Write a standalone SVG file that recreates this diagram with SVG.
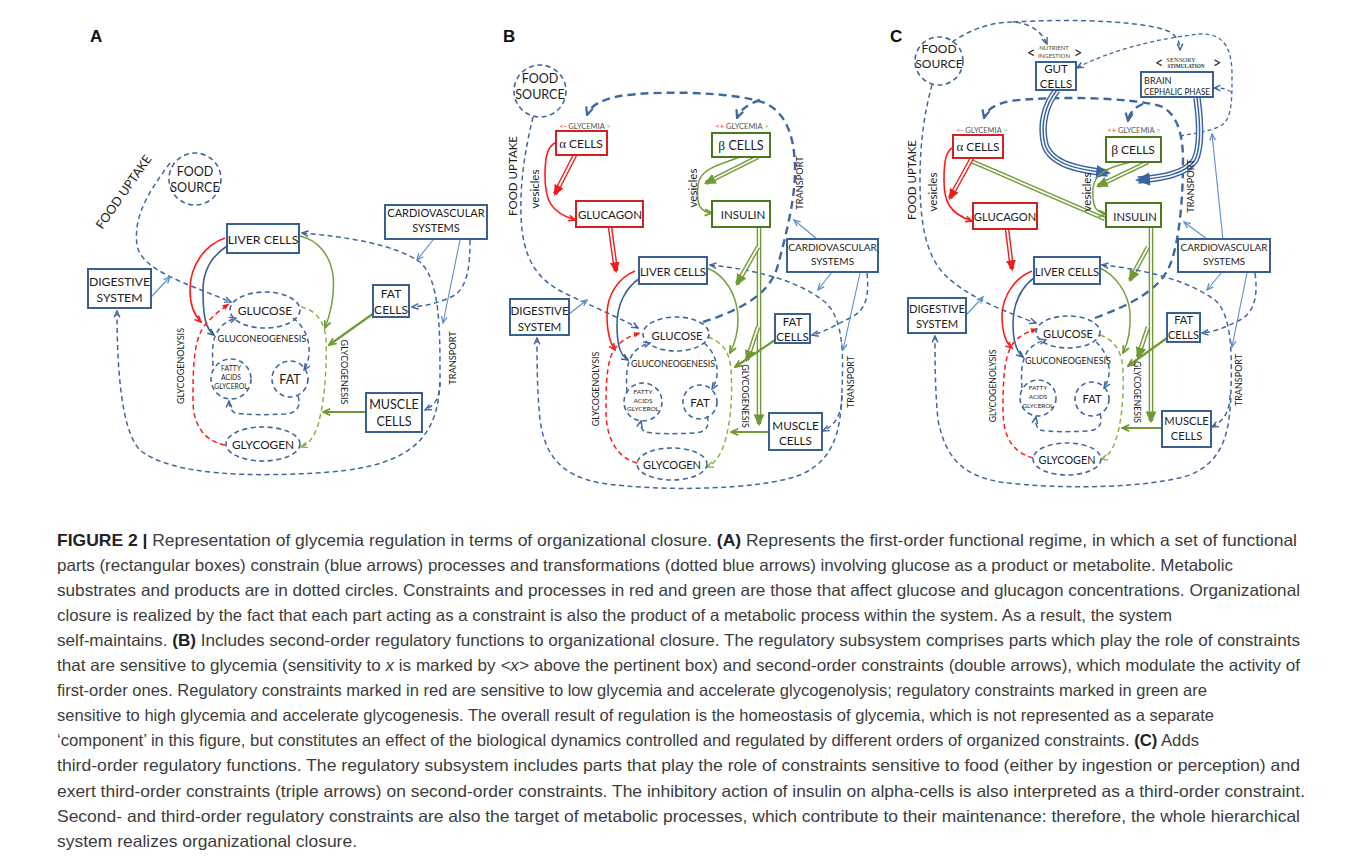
<svg xmlns="http://www.w3.org/2000/svg" width="1358" height="858" viewBox="0 0 1358 858">
<style>
.n{font-family:Lato,"Open Sans","Liberation Sans",sans-serif;fill:#1c1c1c;text-anchor:middle}
.sm{font-family:Lato,"Open Sans","Liberation Sans",sans-serif;text-anchor:middle}
.box{fill:#fff;stroke:#3a5f91;stroke-width:2}
.rbox{fill:#fff;stroke:#d42020;stroke-width:2}
.gbox{fill:#fff;stroke:#4b7a1e;stroke-width:2}
.met{fill:none;stroke:#3f68a0;stroke-width:1.6;stroke-dasharray:5 3.5}
.dash{fill:none;stroke:#3f68a0;stroke-width:1.5;stroke-dasharray:5 3.5;marker-end:url(#vB)}
.both{marker-start:url(#vB)}
.thd{fill:none;stroke:#3f68a0;stroke-width:1.3;stroke-dasharray:4 3}
.hd{fill:none;stroke:#3f68a0;stroke-width:2.4;stroke-dasharray:8 5;marker-end:url(#vBh)}
.thin{fill:none;stroke:#5b8dd0;stroke-width:1.1;marker-end:url(#vL)}
.bl{fill:none;stroke:#3a5f91;stroke-width:1.6;marker-end:url(#vBs)}
.rd{fill:none;stroke:#ff1a1a;stroke-width:1.6;marker-end:url(#vR)}
.rdd{fill:none;stroke:#ff1a1a;stroke-width:1.5;stroke-dasharray:5 3.5;marker-end:url(#fRs)}
.gr{fill:none;stroke:#6f9a35;stroke-width:2.2;marker-end:url(#vG)}
.gr1{fill:none;stroke:#77a03a;stroke-width:1.5;marker-end:url(#vG)}
.grd{fill:none;stroke:#8db04a;stroke-width:1.5;stroke-dasharray:5 3.5;marker-end:url(#vGl)}
.ro{fill:none;stroke:#ee1c1c;stroke-width:4.6}
.go{fill:none;stroke:#6f9a35;stroke-width:4.6}
.wi{fill:none;stroke:#fff;stroke-width:1.8}
.bo{fill:none;stroke:#3a64a0;stroke-width:7.5}
.bw{fill:none;stroke:#fff;stroke-width:4.6}
.bc{fill:none;stroke:#3a64a0;stroke-width:1.5}
.lab{font-family:Lato,"Open Sans","Liberation Sans",sans-serif;fill:#1c1c1c;text-anchor:middle}
.cap{font-family:"Liberation Sans",Arial,sans-serif;font-size:16.5px;fill:#3c3c3c}
</style>
<defs>
<marker id="vB" viewBox="0 0 10 10" refX="9" refY="5" markerWidth="8" markerHeight="8" markerUnits="userSpaceOnUse" orient="auto-start-reverse"><path d="M1,1.5 L9,5 L1,8.5" fill="none" stroke="#3f68a0" stroke-width="1.8"/></marker>
<marker id="vBh" viewBox="0 0 10 10" refX="9" refY="5" markerWidth="10" markerHeight="10" markerUnits="userSpaceOnUse" orient="auto"><path d="M1,1.5 L9,5 L1,8.5" fill="none" stroke="#3f68a0" stroke-width="2.2"/></marker>
<marker id="vL" viewBox="0 0 10 10" refX="9" refY="5" markerWidth="8" markerHeight="8" markerUnits="userSpaceOnUse" orient="auto"><path d="M1,1.5 L9,5 L1,8.5" fill="none" stroke="#5b8dd0" stroke-width="1.6"/></marker>
<marker id="vBs" viewBox="0 0 10 10" refX="9" refY="5" markerWidth="8" markerHeight="8" markerUnits="userSpaceOnUse" orient="auto"><path d="M1,1.5 L9,5 L1,8.5" fill="none" stroke="#3a5f91" stroke-width="2"/></marker>
<marker id="vR" viewBox="0 0 10 10" refX="9" refY="5" markerWidth="8" markerHeight="8" markerUnits="userSpaceOnUse" orient="auto"><path d="M1,1.5 L9,5 L1,8.5" fill="none" stroke="#ff1a1a" stroke-width="2"/></marker>
<marker id="fRs" viewBox="0 0 10 10" refX="9" refY="5" markerWidth="7" markerHeight="7" markerUnits="userSpaceOnUse" orient="auto"><path d="M0,1 L10,5 L0,9 z" fill="#ff1a1a"/></marker>
<marker id="vG" viewBox="0 0 10 10" refX="9" refY="5" markerWidth="9" markerHeight="9" markerUnits="userSpaceOnUse" orient="auto"><path d="M1,1.5 L9,5 L1,8.5" fill="none" stroke="#6f9a35" stroke-width="2"/></marker>
<marker id="vGl" viewBox="0 0 10 10" refX="9" refY="5" markerWidth="8" markerHeight="8" markerUnits="userSpaceOnUse" orient="auto"><path d="M1,1.5 L9,5 L1,8.5" fill="none" stroke="#8db04a" stroke-width="1.8"/></marker>
<marker id="fR" viewBox="0 0 10 10" refX="8" refY="5" markerWidth="11" markerHeight="11" markerUnits="userSpaceOnUse" orient="auto"><path d="M0,0.5 L10,5 L0,9.5 z" fill="#ee1c1c"/></marker>
<marker id="fG" viewBox="0 0 10 10" refX="8" refY="5" markerWidth="12" markerHeight="12" markerUnits="userSpaceOnUse" orient="auto"><path d="M0,0.5 L10,5 L0,9.5 z" fill="#6f9a35"/></marker>
<marker id="fB" viewBox="0 0 10 10" refX="8" refY="5" markerWidth="15" markerHeight="15" markerUnits="userSpaceOnUse" orient="auto"><path d="M0,0.5 L10,5 L0,9.5 z" fill="#3a64a0"/></marker>
<marker id="barG" viewBox="0 0 10 10" refX="5" refY="5" markerWidth="13" markerHeight="13" markerUnits="userSpaceOnUse" orient="auto"><path d="M5,0 L5,10" stroke="#6f9a35" stroke-width="1.6"/></marker>
</defs>
<rect width="1358" height="858" fill="#fff"/>

<!-- ================= PANEL A ================= -->
<text x="90" y="42" font-family="Liberation Sans,Arial,sans-serif" font-weight="bold" font-size="17" fill="#111">A</text>
<g id="A-connectors">
<path class="dash" d="M170,163 C150,190 133,215 137,245 C141,270 185,283 231,302"/>
<path class="thin" d="M151,297 L170,277"/>
<path class="dash both" d="M302,233 C350,237 395,245 420,262 C440,280 440,330 440,375 C440,430 420,465 330,472 C250,478 170,475 140,450 C120,430 117,360 117,311"/>
<path class="dash" d="M470,240 C470,265 468,285 455,295 C440,303 425,306 412,307"/>
<path class="dash" d="M440,382 C440,398 435,405 425,410"/>
<path class="thin" d="M433,240 L417,260"/>
<path class="thin" d="M460,240 L443,323"/>
<path class="rd" d="M225,238 C205,245 190,265 190,290 C190,305 195,316 201,322"/>
<path class="bl" d="M227,246 C212,256 203,270 203,290 C203,315 205,328 214,335"/>
<path class="rdd" d="M225,445 C200,440 193,420 193,400 C193,370 193,340 205,325 C212,317 220,310 229,304"/>
<path class="grd" d="M301,307 C316,310 325,322 326,340 C327,365 325,400 318,425 C313,440 307,445 301,447"/>
<path class="gr1" d="M300,236 C318,240 330,255 333,275 C335,295 330,315 325,328"/>
<path class="gr" d="M374,313 L329,345"/>
<path class="gr" d="M366,412 L323,412"/>
<path class="dash" d="M293,318 C305,327 310,340 309,355 C308,362 306,367 304,370"/>
<path class="dash" d="M298,396 C301,405 298,413 285,414 C265,415 245,415 235,413 C230,410 229,405 229,401"/>
<path class="dash" d="M213,366 C212,350 212,337 220,328 C225,322 230,320 236,318"/>
<text class="lab" font-size="12.5" transform="translate(124,192) rotate(-55)" dy="4">FOOD UPTAKE</text>
<text class="lab" font-size="9" transform="translate(181,366) rotate(-90)" dy="3.2">GLYCOGENOLYSIS</text>
<text class="lab" font-size="9" transform="translate(344,372) rotate(90)" dy="3.2">GLYCOGENESIS</text>
<text class="lab" font-size="9.2" transform="translate(453,358) rotate(-90)" dy="3.2">TRANSPORT</text>
</g>
<g id="A-food-source"><circle class="met" cx="195" cy="179" r="26"/><text class="n" x="195" y="175.5" font-size="12.5">FOOD</text><text class="n" x="195" y="191.5" font-size="12.5">SOURCE</text></g>
<g id="A-liver-cells"><rect class="box" x="227" y="224" width="72" height="29"/><text class="n" x="263" y="244" font-size="12.3">LIVER CELLS</text></g>
<g id="A-cardiovascular"><rect class="box" x="385" y="205" width="102" height="34"/><text class="n" x="436" y="217" font-size="11">CARDIOVASCULAR</text><text class="n" x="436" y="232" font-size="11">SYSTEMS</text></g>
<g id="A-digestive"><rect class="box" x="88" y="269" width="63" height="39"/><text class="n" x="119.5" y="285.5" font-size="12.2">DIGESTIVE</text><text class="n" x="119.5" y="301.5" font-size="12.2">SYSTEM</text></g>
<g id="A-glucose"><ellipse class="met" cx="265" cy="310" rx="35" ry="18"/><text class="n" x="265" y="314.5" font-size="12">GLUCOSE</text></g>
<g id="A-gluconeogenesis"><text class="n" x="262" y="341.5" font-size="9.3">GLUCONEOGENESIS</text></g>
<g id="A-fatty-acids"><circle class="met" cx="231" cy="379" r="20"/><text class="n" x="231" y="370.5" font-size="6.8">FATTY</text><text class="n" x="231" y="379.5" font-size="6.8">ACIDS</text><text class="n" x="231" y="388.5" font-size="6.8">GLYCEROL</text></g>
<g id="A-fat"><circle class="met" cx="290" cy="379" r="18"/><text class="n" x="290" y="383.5" font-size="12.5">FAT</text></g>
<g id="A-glycogen"><ellipse class="met" cx="263" cy="444" rx="37" ry="17"/><text class="n" x="263" y="448.5" font-size="11.8">GLYCOGEN</text></g>
<g id="A-fat-cells"><rect class="box" x="373" y="285" width="36" height="32"/><text class="n" x="391" y="297.5" font-size="12">FAT</text><text class="n" x="391" y="313.5" font-size="12">CELLS</text></g>
<g id="A-muscle-cells"><rect class="box" x="366" y="393" width="56" height="39"/><text class="n" x="394" y="408.5" font-size="12.5">MUSCLE</text><text class="n" x="394" y="425.5" font-size="12.5">CELLS</text></g>

<!-- ================= PANEL B ================= -->
<text x="503" y="42" font-family="Liberation Sans,Arial,sans-serif" font-weight="bold" font-size="17" fill="#111">B</text>
<g id="B-connectors">
<path class="hd" d="M703,322 C740,310 770,295 778,265 C786,235 795,200 795,170 C795,135 785,112 765,103 C735,92 660,90 620,96 C600,100 590,106 587,115"/>
<path class="hd" d="M760,100 C748,104 740,110 737,118"/>
<path class="dash" d="M533,117 C525,150 518,190 522,230 C527,270 545,285 575,298 C600,310 620,318 638,328"/>
<path class="thin" d="M569,314 L587,300"/>
<path class="dash both" d="M710,265 C760,270 800,282 825,302 C845,320 843,360 842,390 C841,430 835,460 800,475 C760,490 660,492 600,483 C560,475 545,455 540,420 C537,390 537,360 537,338"/>
<path class="dash" d="M867,273 C869,295 867,310 850,318 C835,325 825,332 812,335"/>
<path class="dash" d="M842,395 C842,415 835,425 823,431"/>
<path class="thin" d="M832,272 L818,290"/>
<path class="thin" d="M860,273 L843,350"/>
<path class="thin" d="M817,239 L794,220"/>
<path class="ro" d="M575,155 L555,194"/><path class="wi" d="M575,155 L555,194" marker-end="url(#fR)"/>
<path class="ro" d="M610,227 L616,271"/><path class="wi" d="M610,227 L616,271" marker-end="url(#fR)"/>
<path class="rd" d="M557,142 C548,145 545,155 545,175 C545,200 550,212 575,220"/>
<path class="go" d="M758,157 L706,183"/><path class="wi" d="M758,157 L706,183" marker-end="url(#fG)"/>
<path class="go" d="M759,227 L759,424"/><path class="wi" d="M759,227 L759,424" marker-end="url(#fG)"/>
<path class="go" d="M758,247 L737,284"/><path class="wi" d="M758,247 L737,284" marker-end="url(#fG)"/>
<path class="go" d="M758,327 L747,360"/><path class="wi" d="M758,327 L747,360" marker-end="url(#fG)"/>
<path class="gr1" d="M740,157 C720,165 700,168 698,185 C696,205 700,212 712,213"/>
<path class="gr1" d="M707,268 C725,275 738,295 738,320 C738,335 734,345 730,353"/>
<path class="gr" d="M775,340 L735,367"/>
<path class="gr" d="M769,432 L731,432"/>
<path class="rd" d="M635,271 C618,278 607,295 607,315 C607,333 610,343 615,350"/>
<path class="bl" d="M640,278 C625,288 617,305 617,325 C617,345 620,355 628,360"/>
<path class="rdd" d="M637,463 C618,458 606,440 606,410 C606,380 607,360 615,348 C622,340 630,336 640,333"/>
<path class="grd" d="M708,337 C722,342 730,352 731,370 C733,400 730,430 722,450 C717,460 712,465 707,467"/>
<path class="dash" d="M704,343 C713,350 718,362 717,375 C716,382 714,386 712,389"/>
<path class="dash" d="M707,416 C710,425 707,432 695,433 C675,434 655,434 645,432 C641,429 640,425 641,421"/>
<path class="dash" d="M627,392 C626,378 626,365 632,355 C637,348 643,345 650,343"/>
<text class="lab" font-size="11.5" transform="translate(513,176) rotate(-90)" dy="4">FOOD UPTAKE</text>
<text class="lab" font-size="11.5" transform="translate(535,189) rotate(-90)" dy="4">vesicles</text>
<text class="lab" font-size="11.5" transform="translate(693,188) rotate(-90)" dy="4">vesicles</text>
<text class="lab" font-size="9.2" transform="translate(800,183) rotate(-90)" dy="3.2">TRANSPORT</text>
<text class="lab" font-size="8.8" transform="translate(596,389) rotate(-90)" dy="3.2">GLYCOGENOLYSIS</text>
<text class="lab" font-size="8.8" transform="translate(745,396) rotate(90)" dy="3.2">GLYCOGENESIS</text>
<text class="lab" font-size="9" transform="translate(851,382) rotate(-90)" dy="3.2">TRANSPORT</text>
</g>
<g id="B-food-source"><circle class="met" cx="540" cy="91" r="26"/><text class="n" x="540" y="82.5" font-size="12.5">FOOD</text><text class="n" x="540" y="98.5" font-size="12.5">SOURCE</text></g>
<g id="B-alpha-cells"><text class="sm" x="585" y="128.5" font-size="7.5"><tspan fill="#ff2a2a">&lt;-</tspan><tspan fill="#555"> GLYCEMIA </tspan><tspan fill="#8db04a">&gt;</tspan></text><rect class="rbox" x="556" y="131" width="51" height="24"/><text class="n" x="581" y="147.5" font-size="12"><tspan font-family="Liberation Serif,serif" font-size="13">α</tspan> CELLS</text></g>
<g id="B-beta-cells"><text class="sm" x="742" y="128.5" font-size="7.5"><tspan fill="#ff2a2a">&lt;+</tspan><tspan fill="#555"> GLYCEMIA </tspan><tspan fill="#8db04a">&gt;</tspan></text><rect class="gbox" x="712" y="133" width="58" height="24"/><text class="n" x="741" y="149.5" font-size="12.5"><tspan font-family="Liberation Serif,serif" font-size="13.5">β</tspan> CELLS</text></g>
<g id="B-glucagon"><rect class="rbox" x="576" y="201" width="67" height="26"/><text class="n" x="610" y="218.5" font-size="11.5">GLUCAGON</text></g>
<g id="B-insulin"><rect class="gbox" x="712" y="201" width="58" height="26"/><text class="n" x="743" y="218.5" font-size="11.5">INSULIN</text></g>
<g id="B-cardiovascular"><rect class="box" x="787" y="239" width="91" height="33"/><text class="n" x="832.5" y="251" font-size="10">CARDIOVASCULAR</text><text class="n" x="832.5" y="265" font-size="10">SYSTEMS</text></g>
<g id="B-liver-cells"><rect class="box" x="639" y="257" width="68" height="27"/><text class="n" x="673" y="275.5" font-size="11.5">LIVER CELLS</text></g>
<g id="B-digestive"><rect class="box" x="510" y="299" width="59" height="36"/><text class="n" x="539.5" y="314.5" font-size="11.6">DIGESTIVE</text><text class="n" x="539.5" y="330.5" font-size="11.6">SYSTEM</text></g>
<g id="B-glucose"><ellipse class="met" cx="676" cy="334" rx="33" ry="17"/><text class="n" x="677" y="340" font-size="11.3">GLUCOSE</text></g>
<g id="B-gluconeogenesis"><text class="n" x="673" y="366.5" font-size="8.8">GLUCONEOGENESIS</text></g>
<g id="B-fatty-acids"><circle class="met" cx="643" cy="402" r="19"/><text class="n" x="643" y="393.5" font-size="6.5">FATTY</text><text class="n" x="643" y="402.5" font-size="6.5">ACIDS</text><text class="n" x="643" y="410.5" font-size="6.5">GLYCEROL</text></g>
<g id="B-fat"><circle class="met" cx="700" cy="402" r="17"/><text class="n" x="700" y="406.5" font-size="11.5">FAT</text></g>
<g id="B-glycogen"><ellipse class="met" cx="672" cy="464" rx="35" ry="16"/><text class="n" x="672" y="469" font-size="11">GLYCOGEN</text></g>
<g id="B-fat-cells"><rect class="box" x="775" y="314" width="35" height="29"/><text class="n" x="792.5" y="325.5" font-size="11.5">FAT</text><text class="n" x="792.5" y="341" font-size="11.5">CELLS</text></g>
<g id="B-muscle-cells"><rect class="box" x="769" y="413" width="53" height="37"/><text class="n" x="795.5" y="429.5" font-size="11.7">MUSCLE</text><text class="n" x="795.5" y="444.5" font-size="11.7">CELLS</text></g>

<!-- ================= PANEL C ================= -->
<text x="890" y="42" font-family="Liberation Sans,Arial,sans-serif" font-weight="bold" font-size="17" fill="#111">C</text>
<g id="C-connectors">
<path class="dash" d="M952,42 C970,30 990,22 1013,22 C1030,23 1042,32 1047,44"/>
<path class="dash" d="M1013,22 C1080,18 1150,22 1170,32 C1177,37 1180,42 1180,50"/>
<path class="thd" d="M1180,136 C1195,133 1210,132 1222,125 C1232,118 1232,100 1232,75 C1232,50 1225,33 1200,34 C1160,38 1110,50 1077,68" marker-end="url(#vB)"/>
<path class="thd" d="M1231,92 C1225,88 1220,88 1214,88" marker-end="url(#vB)"/>
<path class="hd" d="M1095,318 C1130,305 1160,290 1170,265 C1180,240 1183,195 1183,160 C1183,130 1175,112 1160,106 C1130,97 1050,96 1010,101 C995,104 986,110 984,118"/>
<path class="hd" d="M1143,104 C1133,108 1129,114 1128,121"/>
<path class="bo" d="M1057,90 C1045,105 1040,125 1045,145 C1052,165 1080,170 1108,173"/><path class="bw" d="M1057,90 C1045,105 1040,125 1045,145 C1052,165 1080,170 1108,173"/><path class="bc" d="M1057,90 C1045,105 1040,125 1045,145 C1052,165 1080,170 1108,173" marker-end="url(#fB)"/>
<path class="bo" d="M1197,98 C1200,120 1202,145 1195,160 C1185,175 1160,178 1138,180"/><path class="bw" d="M1197,98 C1200,120 1202,145 1195,160 C1185,175 1160,178 1138,180"/><path class="bc" d="M1197,98 C1200,120 1202,145 1195,160 C1185,175 1160,178 1138,180" marker-end="url(#fB)"/>
<path class="go" d="M1105,219 L971,161"/><path class="wi" d="M1105,219 L971,161" marker-end="url(#barG)"/>
<path class="ro" d="M972,158 L950,198"/><path class="wi" d="M972,158 L950,198" marker-end="url(#fR)"/>
<path class="rd" d="M954,147 C946,150 944,160 944,180 C944,200 948,213 972,221"/>
<path class="go" d="M1148,162 L1098,186"/><path class="wi" d="M1148,162 L1098,186" marker-end="url(#fG)"/>
<path class="gr1" d="M1131,162 C1110,167 1095,172 1093,188 C1092,205 1095,213 1106,214"/>
<path class="ro" d="M1007,229 L1012,269"/><path class="wi" d="M1007,229 L1012,269" marker-end="url(#fR)"/>
<path class="go" d="M1151,227 L1151,421"/><path class="wi" d="M1151,227 L1151,421" marker-end="url(#fG)"/>
<path class="go" d="M1148,247 L1130,280"/><path class="wi" d="M1148,247 L1130,280" marker-end="url(#fG)"/>
<path class="go" d="M1148,327 L1138,357"/><path class="wi" d="M1148,327 L1138,357" marker-end="url(#fG)"/>
<path class="gr1" d="M1100,268 C1115,275 1128,292 1130,312 C1131,330 1127,345 1123,353"/>
<path class="gr" d="M1167,338 L1128,366"/>
<path class="gr" d="M1162,428 L1122,428"/>
<path class="rd" d="M1032,271 C1015,278 1003,295 1002,315 C1002,333 1006,343 1012,348"/>
<path class="bl" d="M1035,277 C1020,288 1013,305 1013,325 C1013,343 1017,352 1023,357"/>
<path class="rdd" d="M1033,458 C1015,453 1003,440 1003,410 C1003,380 1004,358 1012,345 C1018,336 1027,332 1037,329"/>
<path class="grd" d="M1100,335 C1115,340 1122,352 1123,370 C1124,400 1121,430 1113,447 C1109,455 1105,458 1101,459"/>
<path class="dash" d="M1096,342 C1105,350 1110,362 1109,374 C1108,381 1106,385 1104,388"/>
<path class="dash" d="M1100,414 C1103,423 1100,430 1088,431 C1068,432 1050,432 1040,430 C1036,427 1035,422 1036,417"/>
<path class="dash" d="M1022,388 C1021,375 1021,362 1027,352 C1032,345 1038,342 1046,340"/>
<path class="dash" d="M932,85 C925,110 920,140 920,180 C920,220 925,255 945,275 C965,295 1000,310 1036,323"/>
<path class="thin" d="M966,315 L983,297"/>
<path class="dash both" d="M1102,265 C1150,270 1190,282 1215,300 C1232,315 1232,355 1231,390 C1230,430 1225,460 1190,475 C1150,488 1060,490 1000,482 C960,475 945,455 938,420 C935,390 935,360 935,336"/>
<path class="dash" d="M1255,273 C1258,295 1255,312 1240,320 C1225,328 1212,332 1202,333"/>
<path class="dash" d="M1230,395 C1230,413 1222,422 1212,427"/>
<path class="thin" d="M1222,272 L1207,290"/>
<path class="thin" d="M1247,273 L1232,347"/>
<path class="thin" d="M1223,240 L1212,134"/>
<path class="thin" d="M1207,239 L1184,222"/>
<text class="lab" font-size="11.5" transform="translate(912,180) rotate(-90)" dy="4">FOOD UPTAKE</text>
<text class="lab" font-size="11.5" transform="translate(933,192) rotate(-90)" dy="4">vesicles</text>
<text class="lab" font-size="11.5" transform="translate(1087,192) rotate(-90)" dy="4">vesicles</text>
<text class="lab" font-size="9.2" transform="translate(1191,186) rotate(-90)" dy="3.2">TRANSPORT</text>
<text class="lab" font-size="8.6" transform="translate(993,386) rotate(-90)" dy="3.2">GLYCOGENOLYSIS</text>
<text class="lab" font-size="8.6" transform="translate(1137,392) rotate(90)" dy="3.2">GLYCOGENESIS</text>
<text class="lab" font-size="9" transform="translate(1239,380) rotate(-90)" dy="3.2">TRANSPORT</text>
</g>
<g id="C-food-source"><circle class="met" cx="939" cy="61" r="24"/><text class="n" x="939" y="52.5" font-size="12">FOOD</text><text class="n" x="939" y="67.5" font-size="12">SOURCE</text></g>
<g id="C-gut-cells"><text class="n" x="1031" y="57.5" font-size="15">&lt;</text><text class="sm" x="1054" y="49.5" font-size="6" fill="#4d4d26">NUTRIENT</text><text class="sm" x="1054" y="57.5" font-size="6" fill="#4d4d26">INGESTION</text><text class="n" x="1078" y="57.5" font-size="15">&gt;</text><rect class="box" x="1036" y="62" width="40" height="28"/><text class="n" x="1056" y="72.5" font-size="11.5">GUT</text><text class="n" x="1056" y="87.5" font-size="11.5">CELLS</text></g>
<g id="C-brain"><text class="n" x="1159" y="68" font-size="15">&lt;</text><text x="1181" y="61.5" font-family="Liberation Serif,serif" font-size="6.5" fill="#333" text-anchor="middle">SENSORY</text><text x="1186" y="67.5" font-family="Liberation Serif,serif" font-weight="bold" font-size="5.2" fill="#333" text-anchor="middle">STIMULATION</text><text class="n" x="1217" y="68" font-size="15">&gt;</text><rect class="box" x="1141" y="72" width="72" height="25"/><text class="n" x="1144" y="83.5" font-size="9.2" style="text-anchor:start">BRAIN</text><text class="n" x="1144" y="94.5" font-size="9.2" style="text-anchor:start" textLength="66" lengthAdjust="spacingAndGlyphs">CEPHALIC PHASE</text></g>
<g id="C-alpha-cells"><text class="sm" x="982" y="132.5" font-size="7.5"><tspan fill="#ff2a2a">&lt;-</tspan><tspan fill="#555"> GLYCEMIA </tspan><tspan fill="#8db04a">&gt;</tspan></text><rect class="rbox" x="953" y="135" width="50" height="23"/><text class="n" x="978" y="151" font-size="11.8"><tspan font-family="Liberation Serif,serif" font-size="13">α</tspan> CELLS</text></g>
<g id="C-beta-cells"><text class="sm" x="1134" y="132.5" font-size="7.5"><tspan fill="#ff2a2a">&lt;+</tspan><tspan fill="#555"> GLYCEMIA </tspan><tspan fill="#8db04a">&gt;</tspan></text><rect class="gbox" x="1106" y="137" width="55" height="25"/><text class="n" x="1133" y="154" font-size="12"><tspan font-family="Liberation Serif,serif" font-size="13.5">β</tspan> CELLS</text></g>
<g id="C-glucagon"><rect class="rbox" x="973" y="203" width="64" height="26"/><text class="n" x="1005" y="221" font-size="11.2">GLUCAGON</text></g>
<g id="C-insulin"><rect class="gbox" x="1106" y="203" width="55" height="24"/><text class="n" x="1135" y="221" font-size="11.2">INSULIN</text></g>
<g id="C-cardiovascular"><rect class="box" x="1178" y="239" width="92" height="33"/><text class="n" x="1224" y="251" font-size="9.8">CARDIOVASCULAR</text><text class="n" x="1224" y="265" font-size="9.8">SYSTEMS</text></g>
<g id="C-liver-cells"><rect class="box" x="1034" y="257" width="66" height="27"/><text class="n" x="1067" y="275.5" font-size="11.2">LIVER CELLS</text></g>
<g id="C-digestive"><rect class="box" x="908" y="298" width="58" height="35"/><text class="n" x="937" y="313" font-size="11.2">DIGESTIVE</text><text class="n" x="937" y="327.5" font-size="11.2">SYSTEM</text></g>
<g id="C-glucose"><ellipse class="met" cx="1068" cy="332" rx="32" ry="16"/><text class="n" x="1068" y="338" font-size="11">GLUCOSE</text></g>
<g id="C-gluconeogenesis"><text class="n" x="1068" y="363.5" font-size="9">GLUCONEOGENESIS</text></g>
<g id="C-fatty-acids"><circle class="met" cx="1038" cy="398" r="18"/><text class="n" x="1038" y="389.5" font-size="6.3">FATTY</text><text class="n" x="1038" y="399" font-size="6.3">ACIDS</text><text class="n" x="1038" y="407.5" font-size="6.3">GLYCEROL</text></g>
<g id="C-fat"><circle class="met" cx="1092" cy="399" r="17"/><text class="n" x="1092" y="403" font-size="11.2">FAT</text></g>
<g id="C-glycogen"><ellipse class="met" cx="1067" cy="459" rx="34" ry="16"/><text class="n" x="1067" y="463.5" font-size="10.8">GLYCOGEN</text></g>
<g id="C-fat-cells"><rect class="box" x="1167" y="313" width="33" height="29"/><text class="n" x="1183.5" y="324" font-size="11">FAT</text><text class="n" x="1183.5" y="339" font-size="11">CELLS</text></g>
<g id="C-muscle-cells"><rect class="box" x="1162" y="411" width="49" height="36"/><text class="n" x="1186.5" y="424.5" font-size="11.2">MUSCLE</text><text class="n" x="1186.5" y="439.5" font-size="11.2">CELLS</text></g>

<!-- ================= CAPTION ================= -->
<g id="caption" class="cap">
<text x="57" y="545.5" textLength="1240" lengthAdjust="spacingAndGlyphs"><tspan font-weight="bold" fill="#222">FIGURE 2 |</tspan> Representation of glycemia regulation in terms of organizational closure. <tspan font-weight="bold" fill="#222">(A)</tspan> Represents the first-order functional regime, in which a set of functional</text>
<text x="57" y="570.6" textLength="1176" lengthAdjust="spacingAndGlyphs">parts (rectangular boxes) constrain (blue arrows) processes and transformations (dotted blue arrows) involving glucose as a product or metabolite. Metabolic</text>
<text x="57" y="595.7" textLength="1243" lengthAdjust="spacingAndGlyphs">substrates and products are in dotted circles. Constraints and processes in red and green are those that affect glucose and glucagon concentrations. Organizational</text>
<text x="57" y="620.8" textLength="1115" lengthAdjust="spacingAndGlyphs">closure is realized by the fact that each part acting as a constraint is also the product of a metabolic process within the system. As a result, the system</text>
<text x="57" y="645.9" textLength="1243" lengthAdjust="spacingAndGlyphs">self-maintains. <tspan font-weight="bold" fill="#222">(B)</tspan> Includes second-order regulatory functions to organizational closure. The regulatory subsystem comprises parts which play the role of constraints</text>
<text x="57" y="671" textLength="1243" lengthAdjust="spacingAndGlyphs">that are sensitive to glycemia (sensitivity to <tspan font-style="italic">x</tspan> is marked by <tspan font-style="italic">&lt;x&gt;</tspan> above the pertinent box) and second-order constraints (double arrows), which modulate the activity of</text>
<text x="57" y="696.1" textLength="1150" lengthAdjust="spacingAndGlyphs">first-order ones. Regulatory constraints marked in red are sensitive to low glycemia and accelerate glycogenolysis; regulatory constraints marked in green are</text>
<text x="57" y="721.2" textLength="1157" lengthAdjust="spacingAndGlyphs">sensitive to high glycemia and accelerate glycogenesis. The overall result of regulation is the homeostasis of glycemia, which is not represented as a separate</text>
<text x="57" y="746.3" textLength="1142" lengthAdjust="spacingAndGlyphs">‘component’ in this figure, but constitutes an effect of the biological dynamics controlled and regulated by different orders of organized constraints. <tspan font-weight="bold" fill="#222">(C)</tspan> Adds</text>
<text x="57" y="771.4" textLength="1243" lengthAdjust="spacingAndGlyphs">third-order regulatory functions. The regulatory subsystem includes parts that play the role of constraints sensitive to food (either by ingestion or perception) and</text>
<text x="57" y="796.5" textLength="1248" lengthAdjust="spacingAndGlyphs">exert third-order constraints (triple arrows) on second-order constraints. The inhibitory action of insulin on alpha-cells is also interpreted as a third-order constraint.</text>
<text x="57" y="821.6" textLength="1243" lengthAdjust="spacingAndGlyphs">Second- and third-order regulatory constraints are also the target of metabolic processes, which contribute to their maintenance: therefore, the whole hierarchical</text>
<text x="57" y="846.7" textLength="300" lengthAdjust="spacingAndGlyphs">system realizes organizational closure.</text>
</g>
</svg>
